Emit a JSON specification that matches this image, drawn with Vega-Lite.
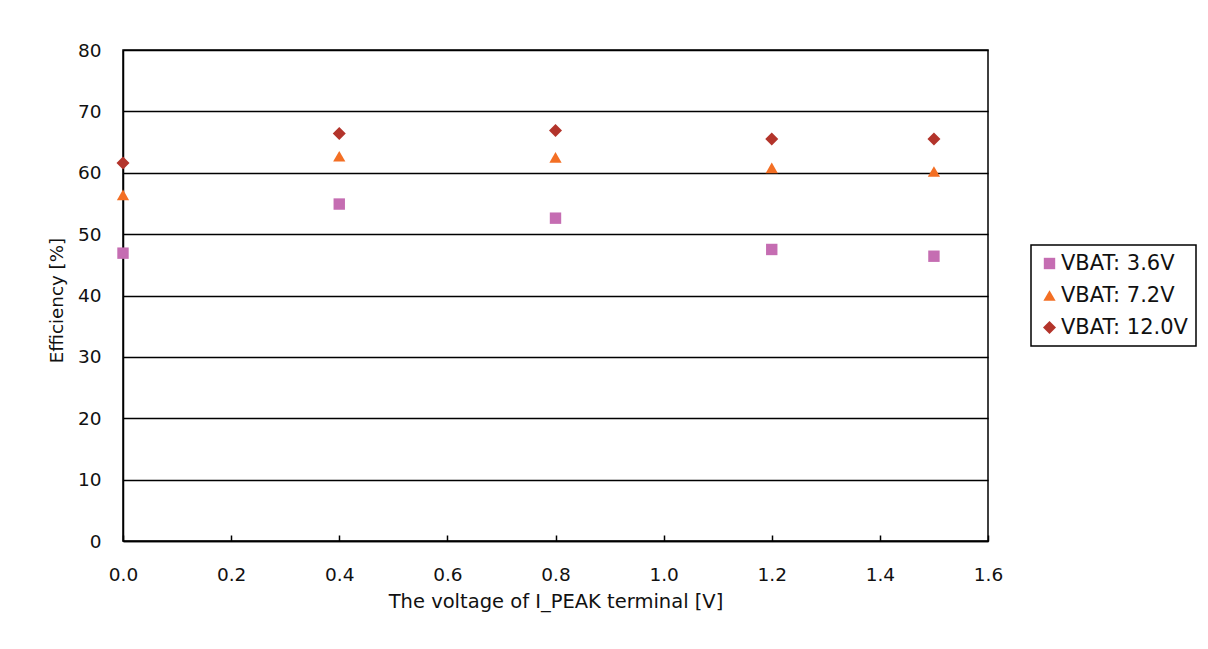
{
  "$schema": "https://vega.github.io/schema/vega-lite/v6.json",
  "autosize": {"type": "none"},
  "padding": {"left": 123, "top": 50, "right": 220, "bottom": 108},
  "width": 865,
  "height": 491,
  "background": "white",
  "data": {
    "values": [
      {"v": 0.0, "eff": 46.9, "series": "VBAT: 3.6V"},
      {"v": 0.4, "eff": 54.9, "series": "VBAT: 3.6V"},
      {"v": 0.8, "eff": 52.6, "series": "VBAT: 3.6V"},
      {"v": 1.2, "eff": 47.5, "series": "VBAT: 3.6V"},
      {"v": 1.5, "eff": 46.4, "series": "VBAT: 3.6V"},
      {"v": 0.0, "eff": 56.4, "series": "VBAT: 7.2V"},
      {"v": 0.4, "eff": 62.7, "series": "VBAT: 7.2V"},
      {"v": 0.8, "eff": 62.5, "series": "VBAT: 7.2V"},
      {"v": 1.2, "eff": 60.8, "series": "VBAT: 7.2V"},
      {"v": 1.5, "eff": 60.2, "series": "VBAT: 7.2V"},
      {"v": 0.0, "eff": 61.6, "series": "VBAT: 12.0V"},
      {"v": 0.4, "eff": 66.4, "series": "VBAT: 12.0V"},
      {"v": 0.8, "eff": 66.9, "series": "VBAT: 12.0V"},
      {"v": 1.2, "eff": 65.5, "series": "VBAT: 12.0V"},
      {"v": 1.5, "eff": 65.5, "series": "VBAT: 12.0V"}
    ]
  },
  "mark": {"type": "point", "filled": true, "opacity": 1, "size": 130, "clip": false},
  "encoding": {
    "x": {
      "field": "v", "type": "quantitative",
      "scale": {"domain": [0, 1.6], "nice": false, "zero": false},
      "axis": {
        "title": "The voltage of I_PEAK terminal [V]",
        "values": [0, 0.2, 0.4, 0.6, 0.8, 1.0, 1.2, 1.4, 1.6],
        "format": ".1f",
        "grid": false,
        "labelFlush": false,
        "domainColor": "#000", "domainWidth": 1.5,
        "ticks": true, "tickColor": "#000", "tickWidth": 1.5, "tickSize": -6,
        "labelPadding": 30, "labelFontSize": 18.5, "labelFont": "DejaVu Sans", "labelColor": "#111",
        "titleFont": "DejaVu Sans", "titleFontSize": 19.5, "titleFontWeight": "normal", "titleColor": "#111",
        "titleBaseline": "alphabetic", "titleY": 66, "titleX": 432.5, "titleAnchor": "middle", "titleAlign": "center"
      }
    },
    "y": {
      "field": "eff", "type": "quantitative",
      "scale": {"domain": [0, 80], "nice": false},
      "axis": {
        "title": "Efficiency [%]",
        "values": [0, 10, 20, 30, 40, 50, 60, 70, 80],
        "labelFlush": false,
        "grid": true, "gridColor": "#000", "gridWidth": 1.3, "gridOpacity": 1,
        "domainColor": "#000", "domainWidth": 1.5,
        "ticks": false,
        "labelPadding": 22, "labelFontSize": 18.5, "labelFont": "DejaVu Sans", "labelColor": "#111",
        "titleFont": "DejaVu Sans", "titleFontSize": 18.3, "titleFontWeight": "normal", "titleColor": "#111",
        "titleBaseline": "alphabetic", "titleX": -61, "titleY": 250, "titleAngle": -90, "titleAlign": "center"
      }
    },
    "color": {
      "field": "series", "type": "nominal",
      "scale": {"domain": ["VBAT: 3.6V", "VBAT: 7.2V", "VBAT: 12.0V"], "range": ["#c56db2", "#f36f24", "#b3342b"]},
      "legend": {
        "title": null,
        "orient": "none", "legendX": 908, "legendY": 195,
        "strokeColor": "#000", "fillColor": "#fff", "padding": 8,
        "labelFont": "DejaVu Sans", "labelFontSize": 21, "labelColor": "#111", "labelLimit": 300,
        "labelOffset": 1, "rowPadding": 10, "symbolSize": 80, "symbolOpacity": 1
      }
    },
    "shape": {
      "field": "series", "type": "nominal",
      "scale": {"domain": ["VBAT: 3.6V", "VBAT: 7.2V", "VBAT: 12.0V"], "range": ["square", "triangle-up", "diamond"]},
      "legend": null
    },
    "size": {
      "field": "series", "type": "nominal",
      "scale": {"domain": ["VBAT: 3.6V", "VBAT: 7.2V", "VBAT: 12.0V"], "range": [130, 170, 100]},
      "legend": null
    }
  },
  "config": {
    "view": {"stroke": "#000", "strokeWidth": 1.5},
    "legend": {"strokeWidth": 1.5}
  }
}
